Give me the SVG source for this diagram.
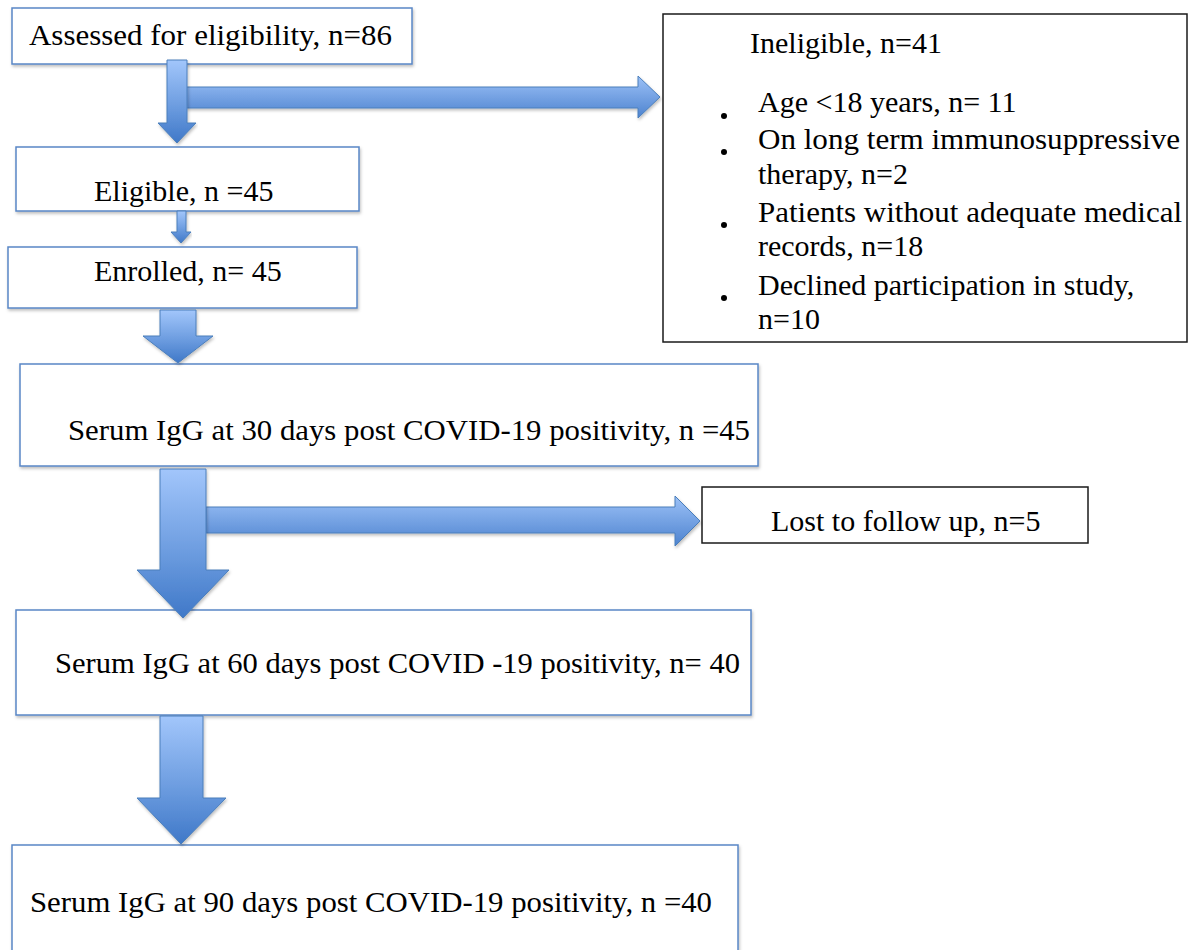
<svg xmlns="http://www.w3.org/2000/svg" width="1190" height="950" viewBox="0 0 1190 950">
  <defs>
    <linearGradient id="gv" x1="0" y1="0" x2="0" y2="1">
      <stop offset="0" stop-color="#a2c6fb"/>
      <stop offset="0.55" stop-color="#6d9de0"/>
      <stop offset="1" stop-color="#3f78c8"/>
    </linearGradient>
    <linearGradient id="gh" x1="0" y1="0" x2="0" y2="1">
      <stop offset="0" stop-color="#9cc1f7"/>
      <stop offset="1" stop-color="#4d83cf"/>
    </linearGradient>
    <filter id="sh" x="-5%" y="-5%" width="110%" height="120%">
      <feDropShadow dx="1" dy="2" stdDeviation="1.5" flood-color="#000" flood-opacity="0.25"/>
    </filter>
    <style>
      .bb { fill: #ffffff; stroke: #5a87c6; stroke-width: 1.5; filter: url(#sh); }
      .kb { fill: #ffffff; stroke: #1a1a1a; stroke-width: 1.5; }
      .t { font-family: "Liberation Serif", "Times New Roman", serif; font-size: 30px; fill: #000; }
      .av { fill: url(#gv); stroke: #4a7ebb; stroke-width: 1; filter: url(#sh); }
      .ah { fill: url(#gh); stroke: #4a7ebb; stroke-width: 1; filter: url(#sh); }
    </style>
  </defs>
  <rect width="1190" height="950" fill="#ffffff"/>

  <g id="assessed">
    <rect class="bb" x="12" y="8" width="400" height="56"/>
    <text class="t" x="29" y="45" textLength="363" lengthAdjust="spacingAndGlyphs">Assessed for eligibility, n=86</text>
  </g>

  <g id="eligible">
    <rect class="bb" x="16" y="147" width="343" height="64"/>
    <text class="t" x="94" y="201">Eligible, n =45</text>
  </g>

  <g id="enrolled">
    <rect class="bb" x="8" y="247" width="349" height="61"/>
    <text class="t" x="94" y="281">Enrolled, n= 45</text>
  </g>

  <g id="ineligible">
    <rect class="kb" x="663" y="14" width="524" height="328"/>
    <text class="t" x="750" y="53">Ineligible, n=41</text>
    <circle cx="724" cy="116" r="3" fill="#000"/>
    <text class="t" x="758" y="112">Age &lt;18 years, n= 11</text>
    <circle cx="724" cy="152" r="3" fill="#000"/>
    <text class="t" x="758" y="149" textLength="422" lengthAdjust="spacingAndGlyphs">On long term immunosuppressive</text>
    <text class="t" x="758" y="184">therapy, n=2</text>
    <circle cx="724" cy="225" r="3" fill="#000"/>
    <text class="t" x="758" y="222" textLength="424" lengthAdjust="spacingAndGlyphs">Patients without adequate medical</text>
    <text class="t" x="758" y="256">records, n=18</text>
    <circle cx="724" cy="298" r="3" fill="#000"/>
    <text class="t" x="758" y="295">Declined participation in study,</text>
    <text class="t" x="758" y="329">n=10</text>
  </g>

  <g id="igg30">
    <rect class="bb" x="20" y="364" width="738" height="102"/>
    <text class="t" x="68" y="440" textLength="682" lengthAdjust="spacingAndGlyphs">Serum IgG at 30 days post COVID-19 positivity, n =45</text>
  </g>

  <g id="lost">
    <rect class="kb" x="702" y="487" width="386" height="56"/>
    <text class="t" x="771" y="531">Lost to follow up, n=5</text>
  </g>

  <g id="igg60">
    <rect class="bb" x="16" y="610" width="735" height="105"/>
    <text class="t" x="55" y="673" textLength="685" lengthAdjust="spacingAndGlyphs">Serum IgG at 60 days post COVID -19 positivity, n= 40</text>
  </g>

  <g id="igg90">
    <rect class="bb" x="12" y="845" width="726" height="120"/>
    <text class="t" x="30" y="912" textLength="682" lengthAdjust="spacingAndGlyphs">Serum IgG at 90 days post COVID-19 positivity, n =40</text>
  </g>

  <g id="connectors">
    <polygon class="ah" points="186,87 638,87 638,76 660,97 638,118 638,108 186,108"/>
    <polygon class="av" points="167,60 187,60 187,123 196,123 177,143 158,123 167,123"/>
    <polygon class="av" points="177,211 186,211 186,232 191,232 181,243 171,232 177,232"/>
    <polygon class="av" points="160,310 196,310 196,336 213,336 178,363 143,336 160,336"/>
    <polygon class="ah" points="206,507 675,507 675,496 700,521 675,546 675,533 206,533"/>
    <polygon class="av" points="160,469 206,469 206,570 229,570 183,618 137,570 160,570"/>
    <polygon class="av" points="160,716 203,716 203,798 226,798 181,844 137,798 160,798"/>
  </g>
</svg>
